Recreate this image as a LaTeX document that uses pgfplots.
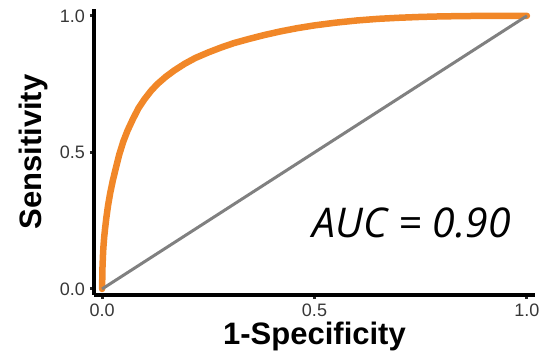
\documentclass[border=0pt]{standalone}
\usepackage{pgfplots}
\pgfplotsset{compat=1.18}
\usepackage{fontspec}
\setmainfont{Liberation Sans}
\newfontfamily\aucfont{Open Sans}
\definecolor{rocorange}{RGB}{241,135,40}
\definecolor{diaggray}{RGB}{128,128,128}
\definecolor{ticktxt}{RGB}{55,55,55}
\pgfplotstableread{
x y
0 0
0.0005 0.04
0.001 0.08
0.002 0.12
0.003 0.15
0.005 0.19
0.007 0.22
0.010 0.26
0.014 0.305
0.019 0.35
0.025 0.395
0.032 0.44
0.040 0.49
0.050 0.54
0.060 0.58
0.072 0.62
0.085 0.66
0.100 0.695
0.115 0.725
0.130 0.75
0.150 0.777
0.170 0.80
0.195 0.825
0.220 0.846
0.250 0.866
0.280 0.884
0.310 0.900
0.345 0.915
0.380 0.929
0.420 0.943
0.460 0.955
0.500 0.965
0.550 0.975
0.600 0.983
0.650 0.989
0.700 0.993
0.750 0.996
0.800 0.998
0.850 0.999
0.900 1.000
1.000 1.000
}\roc
\begin{document}
\begin{tikzpicture}
\useasboundingbox (-94pt,-60pt) rectangle (450pt,295pt);
\begin{axis}[at={(0,0)}, anchor=south west, scale only axis,
  width=441pt, height=286pt,
  xmin=-0.019, xmax=1.019, ymin=-0.022, ymax=1.025,
  axis x line*=bottom, axis y line*=left,
  axis line style={line width=3.5pt, -, black},
  xtick={0,0.5,1}, ytick={0,0.5,1},
  xticklabels={0.0,0.5,1.0}, yticklabels={0.0,0.5,1.0},
  tick align=outside, major tick length=4pt,
  tick style={line width=3pt, black!85},
  /pgf/number format/assume math mode=true,
  ticklabel style={font=\fontsize{18}{18}\selectfont, text=ticktxt},
  xticklabel style={inner sep=0pt, yshift=-5pt},
  yticklabel style={inner sep=0pt, xshift=-5pt},
  xlabel={1-Specificity}, ylabel={Sensitivity},
  label style={font=\fontsize{31}{31}\selectfont\bfseries, inner sep=0pt},
  xlabel style={at={(axis description cs:0.5,-0.094)}, anchor=north},
  ylabel style={at={(axis description cs:-0.118,0.5)}, anchor=base},
  clip=false,
]
\addplot[rocorange, line width=6.5pt, line join=round, line cap=round] table[x=x,y=y] {\roc};
\addplot[diaggray, line width=3pt] coordinates {(0,0) (1,1)};
\node[anchor=base, inner sep=0pt, font=\aucfont\itshape\fontsize{41}{41}\selectfont] at (axis cs:0.729,0.187) {AUC = 0.90};
\end{axis}
\end{tikzpicture}
\end{document}
